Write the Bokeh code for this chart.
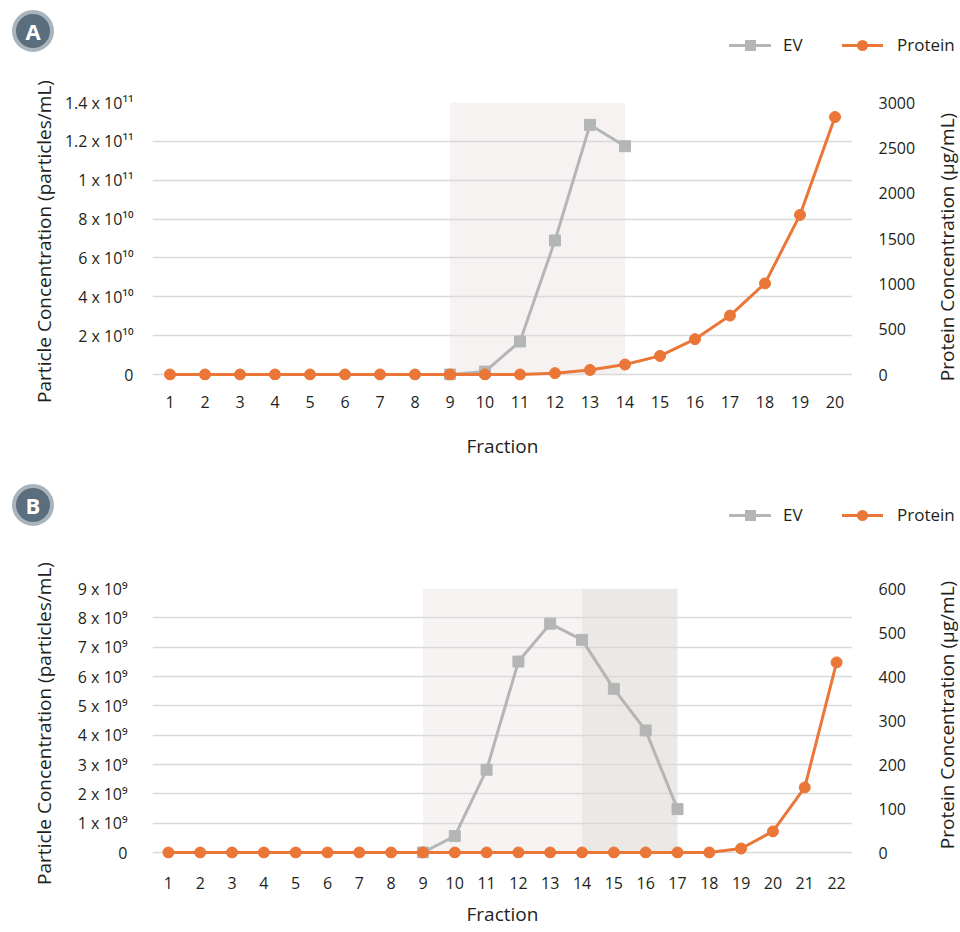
import math
from bokeh.plotting import figure
from bokeh.models import Range1d, LinearAxis, FixedTicker, Div
from bokeh.layouts import column, row
from bokeh.embed import file_html
from bokeh.resources import INLINE

FONT = "Open Sans"
TEXT = "#231f20"
GRID = "#d9d9d9"
EV_COLOR = "#b4b6b5"
PROT_COLOR = "#ea7637"

# ---------------- Panel A data ----------------
fractions_a = [1, 2, 3, 4, 5, 6, 7, 8, 9, 10, 11, 12, 13, 14, 15, 16, 17, 18, 19, 20]
ev_fractions_a = [9, 10, 11, 12, 13, 14]
ev_a = [0, 0.15e10, 1.7e10, 6.9e10, 12.85e10, 11.75e10]
protein_a = [0, 0, 0, 0, 0, 0, 0, 0, 0, 0, 0, 15, 50, 110, 205, 390, 650, 1005, 1760, 2840]
left_ticks_a = [0, 2e10, 4e10, 6e10, 8e10, 1e11, 1.2e11, 1.4e11]
left_labels_a = ["0", "2 x 10¹⁰", "4 x 10¹⁰", "6 x 10¹⁰", "8 x 10¹⁰",
                 "1 x 10¹¹", "1.2 x 10¹¹", "1.4 x 10¹¹"]
right_ticks_a = [0, 500, 1000, 1500, 2000, 2500, 3000]
shade_start_a = [9]
shade_end_a = [14]
shade_color_a = ["#f7f2f2"]

# ---------------- Panel B data ----------------
fractions_b = [1, 2, 3, 4, 5, 6, 7, 8, 9, 10, 11, 12, 13, 14, 15, 16, 17, 18, 19, 20, 21, 22]
ev_fractions_b = [9, 10, 11, 12, 13, 14, 15, 16, 17]
ev_b = [0, 0.56e9, 2.82e9, 6.51e9, 7.8e9, 7.25e9, 5.58e9, 4.16e9, 1.48e9]
protein_b = [0, 0, 0, 0, 0, 0, 0, 0, 0, 0, 0, 0, 0, 0, 0, 0, 0, 0, 9, 48, 148, 432]
left_ticks_b = [0, 1e9, 2e9, 3e9, 4e9, 5e9, 6e9, 7e9, 8e9, 9e9]
left_labels_b = ["0", "1 x 10⁹", "2 x 10⁹", "3 x 10⁹", "4 x 10⁹", "5 x 10⁹",
                 "6 x 10⁹", "7 x 10⁹", "8 x 10⁹", "9 x 10⁹"]
right_ticks_b = [0, 100, 200, 300, 400, 500, 600]
shade_start_b = [9, 14]
shade_end_b = [14, 17]
shade_color_b = ["#f7f3f3", "#ece8e5"]

legend_labels = ["EV", "Protein"]
x_title = "Fraction"
left_title = "Particle Concentration (particles/mL)"
right_title = "Protein Concentration (µg/mL)"

W = 960
SIDE_W = 30          # strip on the right holding the right-axis title
CHART_W = W - SIDE_W
BORDER_L = 152
BORDER_R = 78


def style_axis(ax, size="16px"):
    ax.axis_line_color = None
    ax.major_tick_line_color = None
    ax.minor_tick_line_color = None
    ax.major_label_text_font = FONT
    ax.major_label_text_font_size = size
    ax.major_label_text_color = TEXT
    ax.axis_label_text_font = FONT
    ax.axis_label_text_font_size = "19px"
    ax.axis_label_text_font_style = "normal"
    ax.axis_label_text_color = TEXT


def make_header(letter, height, badge_y, legend_y):
    html = f"""
<div style="position:relative;width:{W}px;height:{height}px;font-family:'{FONT}';color:{TEXT};">
  <div style="position:absolute;left:12px;top:{badge_y - 21}px;width:42px;height:42px;border-radius:50%;
       background:#5b6e7e;border:4px solid #a9b4bd;box-sizing:border-box;color:#ffffff;
       font-weight:bold;font-size:22px;line-height:34px;text-align:center;">{letter}</div>
  <div style="position:absolute;left:729px;top:{legend_y - 1.5}px;width:42px;height:3px;background:{EV_COLOR};"></div>
  <div style="position:absolute;left:744.5px;top:{legend_y - 5.5}px;width:11px;height:11px;background:{EV_COLOR};"></div>
  <div style="position:absolute;left:783px;top:{legend_y - 12}px;font-size:17px;line-height:24px;white-space:nowrap;">{legend_labels[0]}</div>
  <div style="position:absolute;left:842px;top:{legend_y - 1.5}px;width:41px;height:3px;background:{PROT_COLOR};"></div>
  <div style="position:absolute;left:856.5px;top:{legend_y - 5.5}px;width:11px;height:11px;border-radius:50%;background:{PROT_COLOR};"></div>
  <div style="position:absolute;left:897px;top:{legend_y - 12}px;font-size:17px;line-height:24px;white-space:nowrap;">{legend_labels[1]}</div>
</div>
"""
    return Div(text=html, width=W, height=height, margin=(0, 0, 0, 0))


def make_side_title(height, center_y):
    html = f"""
<div style="position:relative;width:{SIDE_W}px;height:{height}px;">
  <div style="position:absolute;left:17px;top:{center_y}px;transform:translate(-50%,-50%) rotate(-90deg);
       white-space:nowrap;font-family:'{FONT}';font-size:19px;line-height:24px;color:{TEXT};">{right_title}</div>
</div>
"""
    return Div(text=html, width=SIDE_W, height=height, margin=(0, 0, 0, 0))


def make_chart(fractions, ev_x, ev_y, prot, left_ticks, left_labels, right_ticks,
               sh_start, sh_end, sh_color, height, b_top, b_bottom,
               x_std, x_lab_std, y_std, y_lab_std, r_std):
    ymax = left_ticks[-1]
    rmax = right_ticks[-1]
    frame_h = height - b_top - b_bottom
    pad = 6.0 / (frame_h - 6)
    p = figure(width=CHART_W, height=height, output_backend="svg", toolbar_location=None,
               x_range=Range1d(fractions[0] - 0.5, fractions[-1] + 0.5),
               y_range=Range1d(-ymax * pad, ymax),
               min_border_left=BORDER_L, min_border_right=BORDER_R,
               min_border_top=b_top, min_border_bottom=b_bottom,
               outline_line_color=None, margin=(0, 0, 0, 0))
    p.extra_y_ranges = {"protein": Range1d(-rmax * pad, rmax)}

    p.xgrid.visible = False
    p.ygrid.ticker = FixedTicker(ticks=left_ticks)
    p.ygrid.grid_line_color = GRID
    p.ygrid.grid_line_width = 1.5

    p.quad(left=sh_start, right=sh_end, bottom=[0] * len(sh_start), top=[ymax] * len(sh_start),
           fill_color=sh_color, line_color=None, level="image")

    p.line(ev_x, ev_y, line_color=EV_COLOR, line_width=3)
    p.scatter(ev_x, ev_y, marker="square", size=11, color=EV_COLOR)
    p.line(fractions, prot, line_color=PROT_COLOR, line_width=3, y_range_name="protein")
    p.scatter(fractions, prot, marker="circle", size=11, color=PROT_COLOR,
              y_range_name="protein")

    xa = p.xaxis[0]
    xa.ticker = FixedTicker(ticks=fractions)
    style_axis(xa)
    xa.major_label_standoff = x_std
    xa.axis_label = x_title
    xa.axis_label_standoff = x_lab_std

    ya = p.yaxis[0]
    ya.ticker = FixedTicker(ticks=left_ticks)
    ya.major_label_overrides = {t: l for t, l in zip(left_ticks, left_labels)}
    style_axis(ya)
    ya.major_label_standoff = y_std
    ya.axis_label = left_title
    ya.axis_label_standoff = y_lab_std

    ra = LinearAxis(y_range_name="protein", ticker=FixedTicker(ticks=right_ticks))
    style_axis(ra)
    ra.major_label_standoff = r_std
    p.add_layout(ra, "right")
    return p


header_a = make_header("A", 70, 31, 45)
chart_a = make_chart(fractions_a, ev_fractions_a, ev_a, protein_a, left_ticks_a, left_labels_a,
                     right_ticks_a, shade_start_a, shade_end_a, shade_color_a,
                     height=400, b_top=32, b_bottom=90,
                     x_std=9, x_lab_std=22, y_std=13, y_lab_std=5, r_std=20)
side_a = make_side_title(400, 177)
header_b = make_header("B", 88, 35, 45)
chart_b = make_chart(fractions_b, ev_fractions_b, ev_b, protein_b, left_ticks_b, left_labels_b,
                     right_ticks_b, shade_start_b, shade_end_b, shade_color_b,
                     height=372, b_top=30, b_bottom=72,
                     x_std=12, x_lab_std=9, y_std=19, y_lab_std=18, r_std=20)
side_b = make_side_title(372, 157)

layout = column(header_a, row(chart_a, side_a, spacing=0), header_b,
                row(chart_b, side_b, spacing=0), spacing=0)

with open("out.html", "w") as f:
    f.write(file_html(layout, INLINE))
